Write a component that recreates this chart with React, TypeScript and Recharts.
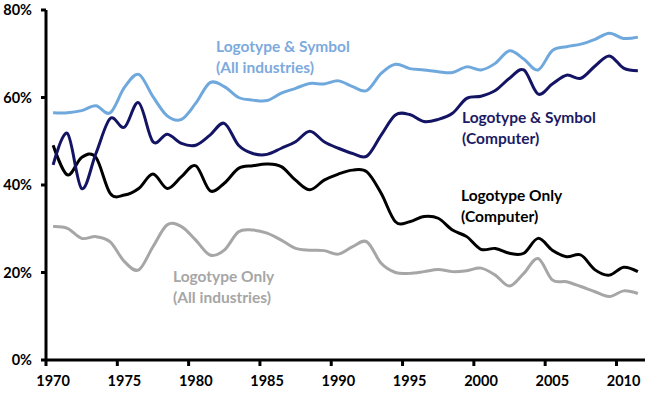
import React from 'react';
import { LineChart, Line, XAxis, YAxis } from 'recharts';

const years = [
  1970, 1971, 1972, 1973, 1974, 1975, 1976, 1977, 1978, 1979,
  1980, 1981, 1982, 1983, 1984, 1985, 1986, 1987, 1988, 1989,
  1990, 1991, 1992, 1993, 1994, 1995, 1996, 1997, 1998, 1999,
  2000, 2001, 2002, 2003, 2004, 2005, 2006, 2007, 2008, 2009,
  2010, 2011,
];

// Logotype & Symbol (All industries)
const allLogoSymbol = [
  56.5, 56.5, 57.0, 58.1, 56.5, 62.3, 65.3, 60.2, 55.8, 55.0,
  58.7, 63.4, 62.5, 60.0, 59.4, 59.3, 61.0, 62.1, 63.2, 63.1,
  63.8, 62.5, 61.6, 65.5, 67.6, 66.6, 66.3, 65.9, 65.7, 67.0,
  66.3, 67.8, 70.7, 68.8, 66.3, 70.7, 71.6, 72.2, 73.3, 74.7,
  73.5, 73.8,
];

// Logotype & Symbol (Computer)
const compLogoSymbol = [
  44.6, 51.8, 39.2, 47.2, 55.2, 53.2, 58.8, 49.9, 51.6, 49.5,
  49.1, 51.4, 54.1, 49.1, 47.2, 47.0, 48.4, 49.9, 52.3, 49.9,
  48.4, 47.2, 46.6, 51.4, 56.0, 56.1, 54.5, 55.0, 56.4, 59.8,
  60.3, 61.6, 64.4, 66.3, 60.8, 63.1, 65.1, 64.4, 67.2, 69.5,
  66.7, 66.1,
];

// Logotype Only (Computer)
const compLogoOnly = [
  49.1, 42.3, 46.3, 46.3, 38.1, 37.7, 39.2, 42.5, 39.2, 41.9,
  44.4, 38.7, 40.4, 43.8, 44.4, 44.8, 44.2, 41.1, 38.9, 41.1,
  42.5, 43.4, 43.0, 38.1, 31.6, 31.6, 32.8, 32.4, 29.7, 28.2,
  25.3, 25.5, 24.4, 24.4, 27.8, 25.1, 23.6, 24.0, 20.6, 19.4,
  21.2, 20.2,
];

// Logotype Only (All industries)
const allLogoOnly = [
  30.5, 30.1, 27.8, 28.2, 27.0, 22.5, 20.6, 25.9, 30.9, 30.5,
  27.4, 24.0, 25.1, 29.3, 29.7, 29.0, 27.4, 25.5, 25.1, 25.0,
  24.2, 25.9, 27.0, 22.1, 20.0, 19.8, 20.2, 20.7, 20.2, 20.4,
  21.0, 19.4, 16.9, 19.8, 23.2, 18.3, 17.9, 16.8, 15.6, 14.5,
  15.8, 15.2,
];

const xTicks = [1970, 1975, 1980, 1985, 1990, 1995, 2000, 2005, 2010];
const yTicks = [0, 20, 40, 60, 80];

const data = years.map((y, i) => ({
  x: y + 0.5,
  allLS: allLogoSymbol[i],
  compLS: compLogoSymbol[i],
  compLO: compLogoOnly[i],
  allLO: allLogoOnly[i],
}));

// Catmull-Rom style smoothing (like spreadsheet "smoothed line")
function smoothCurve(context: any) {
  let x0 = NaN, x1 = NaN, x2 = NaN, y0 = NaN, y1 = NaN, y2 = NaN;
  let pt = 0;
  let line: number = NaN;
  const k = 1 / 6;
  const bez = (x: number, y: number) => {
    context.bezierCurveTo(
      x1 + k * (x2 - x0), y1 + k * (y2 - y0),
      x2 + k * (x1 - x), y2 + k * (y1 - y),
      x2, y2
    );
  };
  return {
    areaStart() { line = 0; },
    areaEnd() { line = NaN; },
    lineStart() { x0 = x1 = x2 = y0 = y1 = y2 = NaN; pt = 0; },
    lineEnd() {
      if (pt === 2) context.lineTo(x2, y2);
      else if (pt === 3) bez(x1, y1);
      if (line || (line !== 0 && pt === 1)) context.closePath();
      line = 1 - line;
    },
    point(x: number, y: number) {
      x = +x; y = +y;
      if (pt === 0) { pt = 1; line ? context.lineTo(x, y) : context.moveTo(x, y); }
      else if (pt === 1) { pt = 2; x1 = x; y1 = y; }
      else { if (pt === 2) pt = 3; bez(x, y); }
      x0 = x1; x1 = x2; x2 = x;
      y0 = y1; y1 = y2; y2 = y;
    },
  };
}

const W = 657;
const H = 393;
const M = { top: 10, right: 12, bottom: 0, left: 0 };
const Y_W = 46;
const X_H = 33;
const plotW = W - M.left - M.right - Y_W;
const half = plotW / (years.length) / 2;

const FONT = 'Lato, "Open Sans", sans-serif';

const XTick = (props: any) => {
  const { x, y, payload } = props;
  return (
    <text x={x + half} y={y} dy="0.71em" textAnchor="middle" fontFamily={FONT} fontWeight={700} fontSize={14.5} fill="#000">
      {payload.value}
    </text>
  );
};

const YTick = (props: any) => {
  const { x, y, payload } = props;
  return (
    <text x={x} y={y} dy="0.36em" textAnchor="end" fontFamily={FONT} fontWeight={700} fontSize={14.5} fill="#000">
      {payload.value}%
    </text>
  );
};

const labels = [
  { lines: ['Logotype & Symbol', '(All industries)'], x: 216, y: 52, color: '#7DAADD' },
  { lines: ['Logotype & Symbol', '(Computer)'], x: 462, y: 123, color: '#1B1B64' },
  { lines: ['Logotype Only', '(Computer)'], x: 461, y: 201, color: '#000000' },
  { lines: ['Logotype Only', '(All industries)'], x: 173, y: 282, color: '#A6A6A6' },
];

export default function App() {
  return (
    <div style={{ position: 'absolute', left: 0, top: 0, width: W, height: H, background: '#fff' }}>
      <LineChart width={W} height={H} data={data} margin={M}>
        <XAxis
          type="number"
          dataKey="x"
          domain={[1970, 2012]}
          ticks={xTicks}
          allowDataOverflow
          height={X_H}
          axisLine={{ stroke: '#000', strokeWidth: 3 }}
          tickLine={{ stroke: '#000', strokeWidth: 3 }}
          tickSize={6}
          tickMargin={10}
          tick={<XTick />}
        />
        <YAxis
          type="number"
          domain={[0, 80]}
          ticks={yTicks}
          width={Y_W}
          axisLine={{ stroke: '#000', strokeWidth: 3 }}
          tickLine={{ stroke: '#000', strokeWidth: 3 }}
          tickSize={5}
          tickMargin={9}
          tick={<YTick />}
        />
        <Line type={smoothCurve as any} dataKey="allLO" stroke="#A6A6A6" strokeWidth={3} dot={false} activeDot={false} isAnimationActive={false} />
        <Line type={smoothCurve as any} dataKey="compLO" stroke="#000000" strokeWidth={3} dot={false} activeDot={false} isAnimationActive={false} />
        <Line type={smoothCurve as any} dataKey="compLS" stroke="#141464" strokeWidth={3} dot={false} activeDot={false} isAnimationActive={false} />
        <Line type={smoothCurve as any} dataKey="allLS" stroke="#6FA8DC" strokeWidth={3} dot={false} activeDot={false} isAnimationActive={false} />
      </LineChart>
      <svg width={W} height={H} style={{ position: 'absolute', left: 0, top: 0, pointerEvents: 'none' }}>
        {labels.map((l, i) => (
          <text key={i} x={l.x} y={l.y} fontFamily={FONT} fontWeight={700} fontSize={15.5} fill={l.color}>
            {l.lines.map((t, j) => (
              <tspan key={j} x={l.x} dy={j === 0 ? 0 : 21}>{t}</tspan>
            ))}
          </text>
        ))}
      </svg>
    </div>
  );
}
